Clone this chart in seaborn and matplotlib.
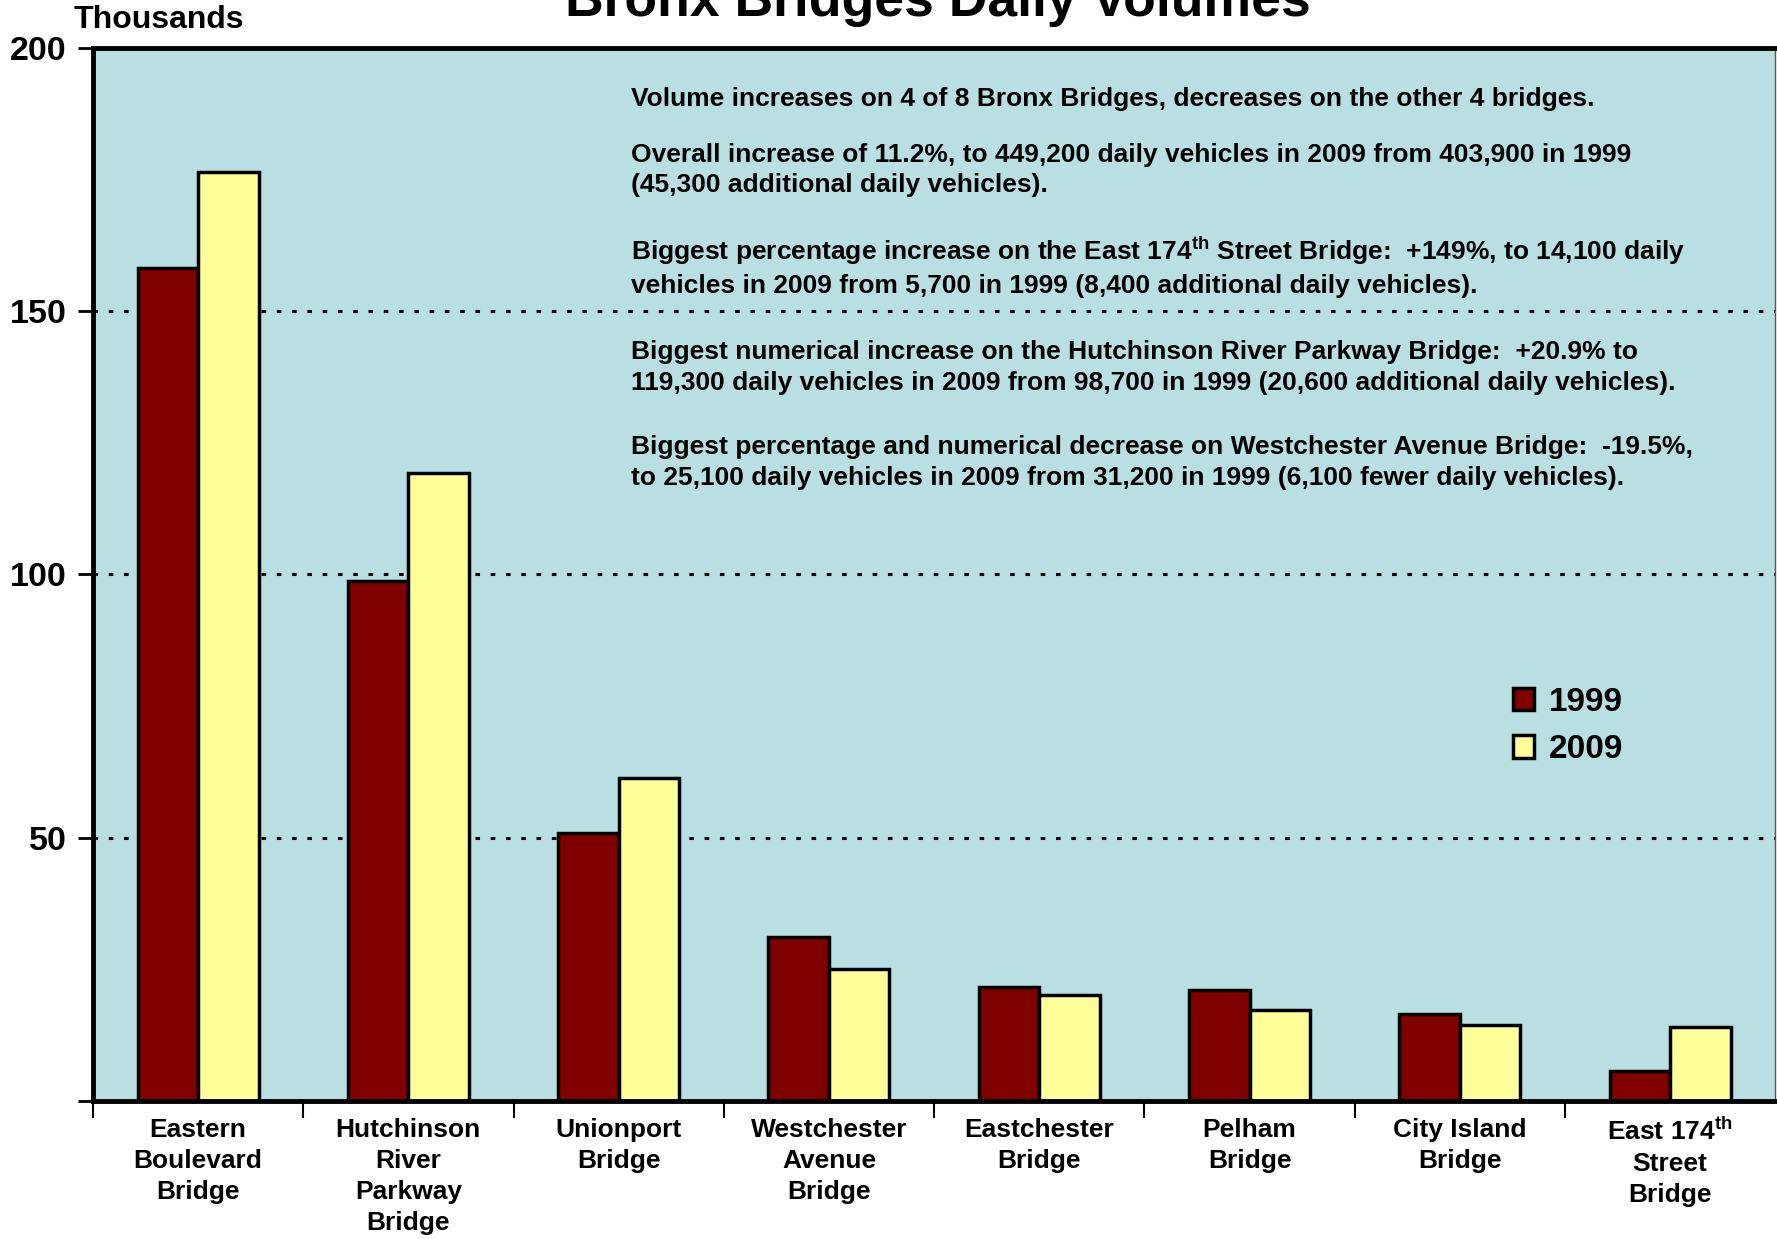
import pandas as pd
import matplotlib.pyplot as plt
import seaborn as sns

# Bronx bridges daily volumes (thousands)
bridges = ["Eastern\nBoulevard\nBridge", "Hutchinson\nRiver\nParkway\nBridge",
           "Unionport\nBridge", "Westchester\nAvenue\nBridge", "Eastchester\nBridge",
           "Pelham\nBridge", "City Island\nBridge", "East 174$^{th}$\nStreet\nBridge"]
vol_1999 = [158.3, 98.7, 50.9, 31.2, 21.7, 21.1, 16.6, 5.7]
vol_2009 = [176.5, 119.3, 61.4, 25.1, 20.1, 17.2, 14.4, 14.1]
years = ["1999", "2009"]
y_ticks = [0, 50, 100, 150, 200]
y_labels = ["", "50", "100", "150", "200"]

notes = [
    "Volume increases on 4 of 8 Bronx Bridges, decreases on the other 4 bridges.",
    "Overall increase of 11.2%, to 449,200 daily vehicles in 2009 from 403,900 in 1999\n"
    "(45,300 additional daily vehicles).",
    "Biggest percentage increase on the East 174$^{th}$ Street Bridge:  +149%, to 14,100 daily\n"
    "vehicles in 2009 from 5,700 in 1999 (8,400 additional daily vehicles).",
    "Biggest numerical increase on the Hutchinson River Parkway Bridge:  +20.9% to\n"
    "119,300 daily vehicles in 2009 from 98,700 in 1999 (20,600 additional daily vehicles).",
    "Biggest percentage and numerical decrease on Westchester Avenue Bridge:  -19.5%,\n"
    "to 25,100 daily vehicles in 2009 from 31,200 in 1999 (6,100 fewer daily vehicles).",
]
note_y = [87, 150, 235, 324, 408]  # pixel centre of each paragraph (shown image)

df = pd.DataFrame({
    "bridge": bridges * 2,
    "volume": vol_1999 + vol_2009,
    "year": [years[0]] * 8 + [years[1]] * 8,
})

sns.set_style("white")
plt.rcParams["font.family"] = ["Liberation Sans", "DejaVu Sans"]
plt.rcParams["font.weight"] = "bold"
plt.rcParams["text.color"] = "black"
plt.rcParams["xtick.color"] = "black"
plt.rcParams["ytick.color"] = "black"
plt.rcParams["mathtext.fontset"] = "custom"
plt.rcParams["mathtext.rm"] = "Liberation Sans:bold"
plt.rcParams["mathtext.bf"] = "Liberation Sans:bold"
plt.rcParams["mathtext.default"] = "rm"

fig = plt.figure(figsize=(17.77, 12.39), dpi=100)
ax = fig.add_axes([0.0523, 0.1114, 0.9467, 0.8499])
ax.set_facecolor("#B9DFE3")

sns.barplot(data=df, x="bridge", y="volume", hue="year",
            palette=["#800000", "#FFFF99"], saturation=1, width=0.576,
            edgecolor="black", linewidth=2.5, ax=ax)

ax.set_xlim(-0.5, 7.5)
ax.set_ylim(0, 200)
ax.set_yticks(y_ticks)
ax.set_yticklabels(y_labels, fontsize=24.5, fontweight="bold")
ax.tick_params(axis="y", length=11, width=2, direction="out", left=True, pad=8)
ax.tick_params(axis="x", length=0, labelsize=19, pad=12)
ax.set_xticks(range(8), [b for b in bridges], fontweight="bold", linespacing=1.37)
ax.set_xticks([i - 0.5 for i in range(8)], minor=True)
ax.tick_params(axis="x", which="minor", length=12, width=1.5, direction="out", bottom=True)
ax.set_xlabel("")
ax.set_ylabel("")

ax.set_axisbelow(True)
ax.yaxis.grid(True, color="black", linestyle=(0, (1.5, 3.5)), linewidth=2.2)
ax.xaxis.grid(False)

for side in ["top", "left", "bottom"]:
    ax.spines[side].set_linewidth(3.5)
    ax.spines[side].set_color("black")
ax.spines["right"].set_linewidth(1)
ax.spines["right"].set_color("#555555")

leg = ax.legend(loc="upper left", bbox_to_anchor=(0.826, 0.422), frameon=False,
                fontsize=24, handlelength=0.65, handleheight=0.65,
                handletextpad=0.45, labelspacing=0.5)
for t in leg.get_texts():
    t.set_fontweight("bold")

# notes block
for txt, yy in zip(notes, note_y):
    fig.text(557 / 1568, 1 - yy / 1093, txt, fontsize=19, fontweight="bold",
             ha="left", va="center", linespacing=1.35)

fig.text(65 / 1568, 1 - 18 / 1093, "Thousands", fontsize=23, fontweight="bold",
         ha="left", va="center")
fig.text(828 / 1568, 1 - 14 / 1093, "Bronx Bridges Daily Volumes", fontsize=38.5,
         fontweight="bold", ha="center", va="baseline")

plt.savefig("out.png", dpi=100)
